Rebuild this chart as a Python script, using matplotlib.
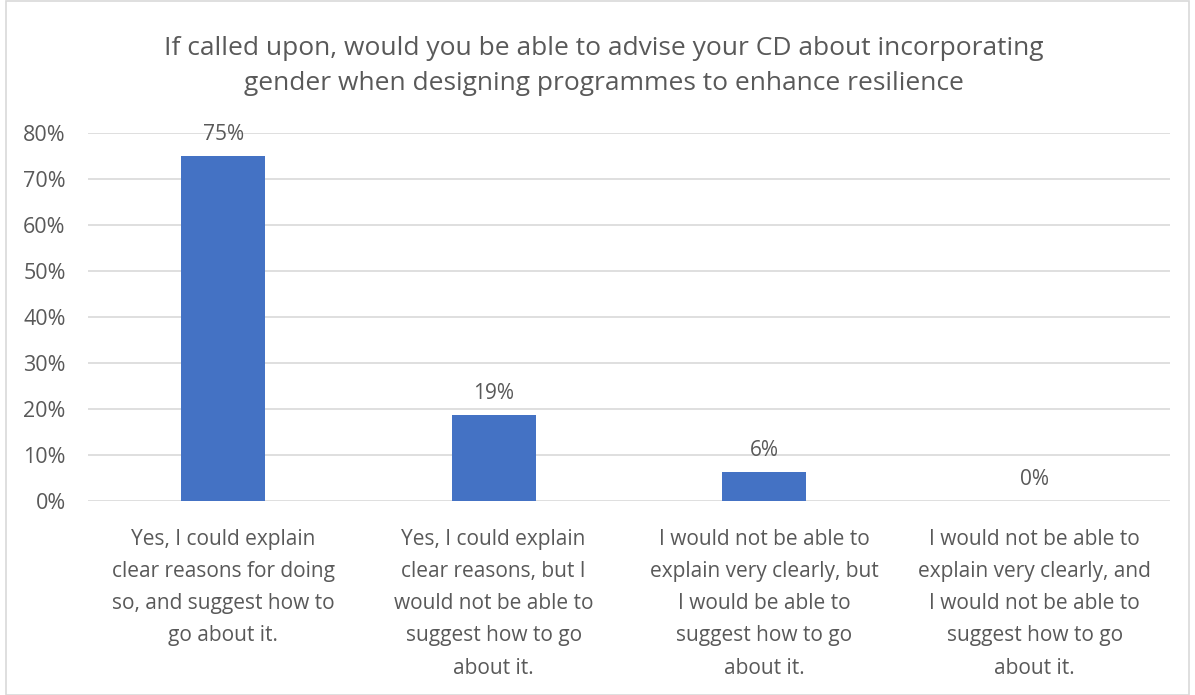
import matplotlib.pyplot as plt
from matplotlib.patches import Rectangle
from matplotlib.ticker import PercentFormatter, MultipleLocator

plt.rcParams['font.family'] = ['Open Sans', 'DejaVu Sans']

title = ('If called upon, would you be able to advise your CD about incorporating\n'
         'gender when designing programmes to enhance resilience')
categories = [
    'Yes, I could explain\nclear reasons for doing\nso, and suggest how to\ngo about it.',
    'Yes, I could explain\nclear reasons, but I\nwould not be able to\nsuggest how to go\nabout it.',
    'I would not be able to\nexplain very clearly, but\nI would be able to\nsuggest how to go\nabout it.',
    'I would not be able to\nexplain very clearly, and\nI would not be able to\nsuggest how to go\nabout it.',
]
shares = [0.75, 0.1875, 0.0625, 0.0]

text_col = '#595959'
bar_col = '#4472C4'
grid_col = '#D9D9D9'

fig = plt.figure(figsize=(11.95, 6.95), dpi=100)
ax = fig.add_axes([0.0736, 0.279, 0.9054, 0.530])

x = range(len(categories))
bars = ax.bar(x, shares, width=0.31, color=bar_col, zorder=3)
for b, v in zip(bars, shares):
    ax.annotate(f'{v:.0%}', (b.get_x() + b.get_width() / 2, v),
                xytext=(0, 8), textcoords='offset points',
                ha='center', va='bottom', fontsize=15, color=text_col)

ax.set_xlim(-0.5, len(categories) - 0.5)
ax.set_ylim(0, 0.8)
ax.yaxis.set_major_locator(MultipleLocator(0.1))
ax.yaxis.set_major_formatter(PercentFormatter(1.0, decimals=0))
ax.grid(axis='y', color=grid_col, linewidth=1.2, zorder=0)
for s in ax.spines.values():
    s.set_visible(False)
ax.tick_params(axis='both', length=0, colors=text_col)
ax.tick_params(axis='y', pad=16, labelsize=15.5)
ax.tick_params(axis='x', pad=20)
ax.set_xticks(list(x))
ax.set_xticklabels(categories, fontsize=15, linespacing=1.7)

fig.text(0.505, 0.905, title, ha='center', va='center', fontsize=19,
         color=text_col, linespacing=1.52)

fig.patches.append(Rectangle((0.005, 0.0), 0.99, 0.999, transform=fig.transFigure,
                             fill=False, edgecolor=grid_col, linewidth=1.2))

fig.savefig('out.png', dpi=100)
